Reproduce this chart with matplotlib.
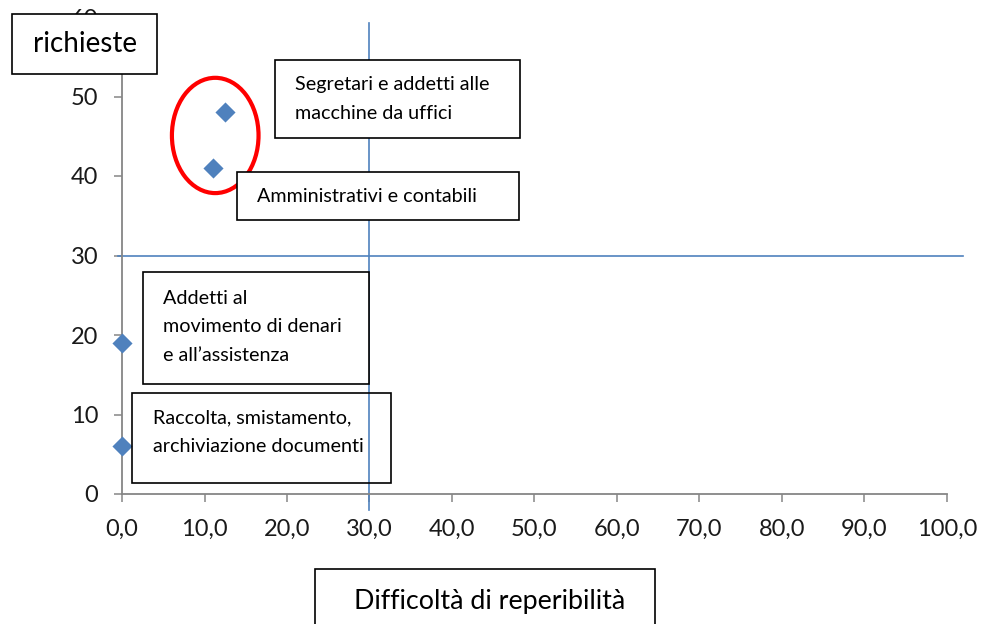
import matplotlib.pyplot as plt
from matplotlib.patches import Rectangle, Ellipse

plt.rcParams['font.family'] = ['Lato', 'DejaVu Sans']

# dati
difficolta = [0.0, 0.0, 11.0, 12.5]
richieste = [6, 19, 41, 48]
x_ticks = [0, 10, 20, 30, 40, 50, 60, 70, 80, 90, 100]
y_ticks = [0, 10, 20, 30, 40, 50, 60]
soglia_x = 30
soglia_y = 30

W, H = 982, 624
BLU = '#4F81BD'
GRIGIO = '#868686'

fig = plt.figure(figsize=(W / 100, H / 100), dpi=100)
ax = fig.add_axes([122 / W, 1 - 494 / H, 825 / W, 477 / H])

def px(x, y):
    # pixel dell'immagine -> coordinate figura
    return x / W, 1 - y / H

def box(x0, y0, x1, y1, fill=True):
    r = Rectangle(px(x0, y1), (x1 - x0) / W, (y1 - y0) / H,
                  transform=fig.transFigure, clip_on=False, zorder=6,
                  facecolor='white' if fill else 'none',
                  edgecolor='black', linewidth=1.2)
    ax.add_patch(r)

def testo(x, y, s, size=14.2, ha='left', ls=1.85):
    ax.text(*px(x, y), s, transform=fig.transFigure, fontsize=size,
            ha=ha, va='center', linespacing=ls, zorder=7, color='black')

# linee di soglia
ax.plot([-0.5, 102], [soglia_y, soglia_y], color=BLU, lw=1.2, clip_on=False, zorder=2)
ax.plot([soglia_x, soglia_x], [-2, 59.2], color=BLU, lw=1.2, clip_on=False, zorder=2)

ax.scatter(difficolta, richieste, marker='D', s=105, color=BLU,
           clip_on=False, zorder=4, linewidths=0)

ax.add_patch(Ellipse((11.3, 45.1), 10.5, 14.5, fill=False, edgecolor='#FF0000',
                     linewidth=3, zorder=5))

ax.set_xlim(0, 100)
ax.set_ylim(0, 60)
ax.set_xticks(x_ticks)
ax.set_xticklabels([f'{v:.1f}'.replace('.', ',') for v in x_ticks])
ax.set_yticks(y_ticks)
ax.tick_params(axis='both', direction='out', length=6, width=1.1, color=GRIGIO,
               labelsize=17, labelcolor='#1a1a1a')
ax.tick_params(axis='x', pad=12)
ax.tick_params(axis='y', pad=11)
for s in ['top', 'right']:
    ax.spines[s].set_visible(False)
for s in ['left', 'bottom']:
    ax.spines[s].set_color(GRIGIO)
    ax.spines[s].set_linewidth(1.3)

# riquadri
box(12, 14, 157, 74)
testo(85, 44, 'richieste', size=20, ha='center')

box(275, 60, 520, 138)
testo(295, 99, 'Segretari e addetti alle\nmacchine da uffici')

box(237, 172, 519, 220)
testo(257, 197, 'Amministrativi e contabili')

box(143, 272, 369, 384)
testo(163, 327, 'Addetti al\nmovimento di denari\ne all\u2019assistenza')

box(132, 393, 391, 483, fill=False)
testo(153, 432, 'Raccolta, smistamento,\narchiviazione documenti')

box(315, 569, 655, 640)
testo(490, 601, 'Difficoltà di reperibilità', size=19.4, ha='center')

fig.savefig('out.png', dpi=100)
